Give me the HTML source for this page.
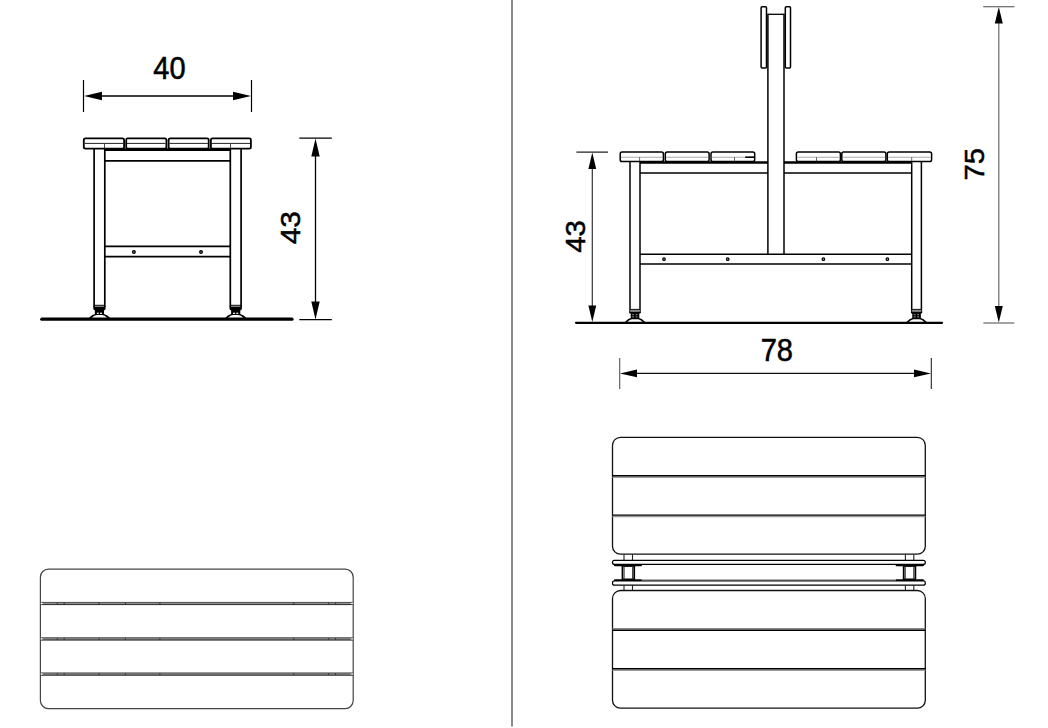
<!DOCTYPE html>
<html><head><meta charset="utf-8"><style>
html,body{margin:0;padding:0;background:#fff;width:1048px;height:728px;overflow:hidden}
svg{display:block}
text{font-family:"Liberation Sans",sans-serif;fill:#000;stroke:#000;stroke-width:0.55px}
</style></head><body>
<svg width="1048" height="728" viewBox="0 0 1048 728">
<rect x="511" y="0" width="2" height="726.5" fill="#8a8a8a"/>
<g><line x1="83.5" y1="80" x2="83.5" y2="112" stroke="#000" stroke-width="1.2"/><line x1="251.5" y1="80" x2="251.5" y2="112" stroke="#000" stroke-width="1.2"/><line x1="95" y1="96" x2="240" y2="96" stroke="#000" stroke-width="1.3"/><polygon points="84,96 102.00,100.20 102.00,91.80" fill="#000"/><polygon points="251,96 233.00,91.80 233.00,100.20" fill="#000"/><text x="0" y="0" font-size="30.5" text-anchor="middle" transform="translate(169.4,79.0) scale(0.95,1.0)">40</text><rect x="83.8" y="138.3" width="40.30" height="10.3" rx="1.6" fill="#fff" stroke="#000" stroke-width="1.8"/><line x1="84.6" y1="143.4" x2="123.3" y2="143.4" stroke="#222" stroke-width="1.0"/><rect x="126.2" y="138.3" width="40.20" height="10.3" rx="1.6" fill="#fff" stroke="#000" stroke-width="1.8"/><line x1="127.0" y1="143.4" x2="165.6" y2="143.4" stroke="#222" stroke-width="1.0"/><rect x="168.6" y="138.3" width="40.10" height="10.3" rx="1.6" fill="#fff" stroke="#000" stroke-width="1.8"/><line x1="169.4" y1="143.4" x2="207.89999999999998" y2="143.4" stroke="#222" stroke-width="1.0"/><rect x="210.9" y="138.3" width="40.00" height="10.3" rx="1.6" fill="#fff" stroke="#000" stroke-width="1.8"/><line x1="211.70000000000002" y1="143.4" x2="250.1" y2="143.4" stroke="#222" stroke-width="1.0"/><line x1="104.5" y1="143.4" x2="104.5" y2="148.5" stroke="#333" stroke-width="0.9"/><line x1="230.5" y1="143.4" x2="230.5" y2="148.5" stroke="#333" stroke-width="0.9"/><line x1="104.8" y1="149.6" x2="230.3" y2="149.6" stroke="#000" stroke-width="2.8"/><line x1="94.1" y1="148.6" x2="94.1" y2="307" stroke="#000" stroke-width="1.7"/><line x1="104.8" y1="148.6" x2="104.8" y2="307" stroke="#000" stroke-width="1.7"/><line x1="230.3" y1="148.6" x2="230.3" y2="307" stroke="#000" stroke-width="1.7"/><line x1="241.1" y1="148.6" x2="241.1" y2="307" stroke="#000" stroke-width="1.7"/><line x1="104.8" y1="160.9" x2="230.3" y2="160.9" stroke="#000" stroke-width="1.7"/><line x1="104.8" y1="246.3" x2="230.3" y2="246.3" stroke="#000" stroke-width="1.7"/><line x1="104.8" y1="256.7" x2="230.3" y2="256.7" stroke="#000" stroke-width="1.7"/><circle cx="133.9" cy="252.1" r="1.3" fill="#ccc" stroke="#000" stroke-width="1.4"/><circle cx="201" cy="252.1" r="1.3" fill="#ccc" stroke="#000" stroke-width="1.4"/><line x1="94.1" y1="305.3" x2="104.8" y2="305.3" stroke="#000" stroke-width="1.0"/><path d="M93.3 306.5 L105.6 306.5 L105.6 308.5 Q105.6 310.5 103.3 310.5 L95.6 310.5 Q93.3 310.5 93.3 308.5 Z" fill="#000"/><rect x="94.85" y="310" width="9.2" height="4.3" fill="#000"/><rect x="96.85" y="312.7" width="2" height="1.2" fill="#fff"/><rect x="100.04999999999998" y="312.7" width="2" height="1.2" fill="#fff"/><path d="M88.44999999999999 318.2 Q91.44999999999999 315 94.85 314 L104.04999999999998 314 Q107.44999999999999 315 110.44999999999999 318.2 Z" fill="#000"/><path d="M91.24999999999999 318.2 Q94.44999999999999 315.1 96.94999999999999 315.1 L101.94999999999999 315.1 Q104.44999999999999 315.1 107.64999999999999 318.2 Z" fill="#fff"/><line x1="230.3" y1="305.3" x2="241.1" y2="305.3" stroke="#000" stroke-width="1.0"/><path d="M229.5 306.5 L241.9 306.5 L241.9 308.5 Q241.9 310.5 239.6 310.5 L231.8 310.5 Q229.5 310.5 229.5 308.5 Z" fill="#000"/><rect x="231.1" y="310" width="9.2" height="4.3" fill="#000"/><rect x="233.1" y="312.7" width="2" height="1.2" fill="#fff"/><rect x="236.29999999999998" y="312.7" width="2" height="1.2" fill="#fff"/><path d="M224.7 318.2 Q227.7 315 231.1 314 L240.29999999999998 314 Q243.7 315 246.7 318.2 Z" fill="#000"/><path d="M227.5 318.2 Q230.7 315.1 233.2 315.1 L238.2 315.1 Q240.7 315.1 243.89999999999998 318.2 Z" fill="#fff"/><line x1="41.8" y1="319.2" x2="292" y2="319.2" stroke="#000" stroke-width="3.2" stroke-linecap="round"/><line x1="299.3" y1="138.2" x2="331.8" y2="138.2" stroke="#000" stroke-width="1.2"/><line x1="299.3" y1="319.7" x2="331.8" y2="319.7" stroke="#000" stroke-width="1.2"/><line x1="315.5" y1="150" x2="315.5" y2="310" stroke="#000" stroke-width="1.3"/><polygon points="315.5,138.5 311.30,156.50 319.70,156.50" fill="#000"/><polygon points="315.5,319.5 319.70,301.50 311.30,301.50" fill="#000"/><text x="0" y="0" font-size="30.5" text-anchor="middle" transform="translate(299.9,227.7) rotate(-90) scale(0.98,0.9)">43</text></g>
<g><line x1="767.9" y1="14.3" x2="784.2" y2="14.3" stroke="#000" stroke-width="1.3"/><line x1="767.9" y1="13.7" x2="767.9" y2="254" stroke="#000" stroke-width="1.5"/><line x1="784.0" y1="13.7" x2="784.0" y2="254" stroke="#000" stroke-width="1.5"/><rect x="761.1" y="6.8" width="5.40" height="61.3" rx="1" fill="#fff" stroke="#000" stroke-width="1.5"/><rect x="785.3" y="6.8" width="5.20" height="61.3" rx="1" fill="#fff" stroke="#000" stroke-width="1.5"/><rect x="620.2" y="152.1" width="43.20" height="9.5" rx="1.8" fill="#fff" stroke="#000" stroke-width="1.5"/><line x1="621.0" y1="157.2" x2="662.6" y2="157.2" stroke="#aaa" stroke-width="1.1"/><rect x="665.3" y="152.1" width="43.80" height="9.5" rx="1.8" fill="#fff" stroke="#000" stroke-width="1.5"/><line x1="666.0999999999999" y1="157.2" x2="708.3000000000001" y2="157.2" stroke="#aaa" stroke-width="1.1"/><rect x="711" y="152.1" width="43.70" height="9.5" rx="1.8" fill="#fff" stroke="#000" stroke-width="1.5"/><line x1="711.8" y1="157.2" x2="753.9000000000001" y2="157.2" stroke="#aaa" stroke-width="1.1"/><rect x="796.4" y="152.1" width="44.00" height="9.5" rx="1.8" fill="#fff" stroke="#000" stroke-width="1.5"/><line x1="797.1999999999999" y1="157.2" x2="839.6" y2="157.2" stroke="#aaa" stroke-width="1.1"/><rect x="841.8" y="152.1" width="44.10" height="9.5" rx="1.8" fill="#fff" stroke="#000" stroke-width="1.5"/><line x1="842.5999999999999" y1="157.2" x2="885.1" y2="157.2" stroke="#aaa" stroke-width="1.1"/><rect x="887.3" y="152.1" width="44.30" height="9.5" rx="1.8" fill="#fff" stroke="#000" stroke-width="1.5"/><line x1="888.0999999999999" y1="157.2" x2="930.8000000000001" y2="157.2" stroke="#aaa" stroke-width="1.1"/><line x1="745.2" y1="157.2" x2="754" y2="157.2" stroke="#000" stroke-width="1.6"/><line x1="639.6" y1="157.2" x2="639.6" y2="161.5" stroke="#444" stroke-width="0.8"/><line x1="734.5" y1="157.2" x2="734.5" y2="161.5" stroke="#444" stroke-width="0.8"/><line x1="816.5" y1="157.2" x2="816.5" y2="161.5" stroke="#444" stroke-width="0.8"/><line x1="911.7" y1="157.2" x2="911.7" y2="161.5" stroke="#444" stroke-width="0.8"/><line x1="640" y1="162.5" x2="767.9" y2="162.5" stroke="#000" stroke-width="2.6"/><line x1="784" y1="162.5" x2="911.7" y2="162.5" stroke="#000" stroke-width="2.6"/><line x1="640" y1="173.1" x2="767.9" y2="173.1" stroke="#000" stroke-width="1.5"/><line x1="784" y1="173.1" x2="911.7" y2="173.1" stroke="#000" stroke-width="1.5"/><line x1="630" y1="161.6" x2="630" y2="312.6" stroke="#000" stroke-width="1.5"/><line x1="640" y1="161.6" x2="640" y2="312.6" stroke="#000" stroke-width="1.5"/><line x1="911.7" y1="161.6" x2="911.7" y2="312.6" stroke="#000" stroke-width="1.5"/><line x1="921.4" y1="161.6" x2="921.4" y2="312.6" stroke="#000" stroke-width="1.5"/><line x1="640" y1="254.3" x2="911.7" y2="254.3" stroke="#000" stroke-width="1.5"/><line x1="640" y1="264.1" x2="911.7" y2="264.1" stroke="#000" stroke-width="1.5"/><circle cx="664" cy="259.15" r="1.25" fill="#ccc" stroke="#000" stroke-width="1.3"/><circle cx="727.7" cy="259.15" r="1.25" fill="#ccc" stroke="#000" stroke-width="1.3"/><circle cx="823.4" cy="259.15" r="1.25" fill="#ccc" stroke="#000" stroke-width="1.3"/><circle cx="887.4" cy="259.15" r="1.25" fill="#ccc" stroke="#000" stroke-width="1.3"/><line x1="630" y1="309.4" x2="640" y2="309.4" stroke="#000" stroke-width="1.0"/><rect x="630" y="309.9" width="10.00" height="1.9" fill="#888"/><path d="M629.25 311.8 L640.75 311.8 L640.75 312.4 Q640.75 313.6 639 313.6 L631 313.6 Q629.25 313.6 629.25 312.4 Z" fill="#000"/><rect x="630.7" y="313" width="8.6" height="5.4" fill="#000"/><rect x="632.2" y="313.9" width="1.8" height="1.3" fill="#777"/><rect x="635.7" y="313.9" width="1.8" height="1.3" fill="#777"/><rect x="632.2" y="316.2" width="1.8" height="1.3" fill="#777"/><rect x="635.7" y="316.2" width="1.8" height="1.3" fill="#777"/><path d="M624.8 322 Q628.0 318.5 630.7 318 L639.3 318 Q642.0 318.5 645.2 322 Z" fill="#000"/><path d="M627.2 322 Q630.0 319.2 631.8 319.2 L638.2 319.2 Q640.0 319.2 642.8 322 Z" fill="#fff"/><line x1="911.7" y1="309.4" x2="921.4" y2="309.4" stroke="#000" stroke-width="1.0"/><rect x="911.7" y="309.9" width="9.70" height="1.9" fill="#888"/><path d="M910.95 311.8 L922.15 311.8 L922.15 312.4 Q922.15 313.6 920.4 313.6 L912.7 313.6 Q910.95 313.6 910.95 312.4 Z" fill="#000"/><rect x="912.25" y="313" width="8.6" height="5.4" fill="#000"/><rect x="913.75" y="313.9" width="1.8" height="1.3" fill="#777"/><rect x="917.25" y="313.9" width="1.8" height="1.3" fill="#777"/><rect x="913.75" y="316.2" width="1.8" height="1.3" fill="#777"/><rect x="917.25" y="316.2" width="1.8" height="1.3" fill="#777"/><path d="M906.3499999999999 322 Q909.55 318.5 912.25 318 L920.8499999999999 318 Q923.55 318.5 926.75 322 Z" fill="#000"/><path d="M908.75 322 Q911.55 319.2 913.3499999999999 319.2 L919.75 319.2 Q921.55 319.2 924.3499999999999 322 Z" fill="#fff"/><line x1="576" y1="322.8" x2="942" y2="322.8" stroke="#000" stroke-width="2.2" stroke-linecap="round"/><line x1="576.4" y1="152.1" x2="608" y2="152.1" stroke="#000" stroke-width="1.1"/><line x1="592.3" y1="165" x2="592.3" y2="310" stroke="#333" stroke-width="1.2"/><polygon points="592.3,152.5 588.40,169.00 596.20,169.00" fill="#000"/><polygon points="592.3,322 596.20,305.50 588.40,305.50" fill="#000"/><text x="0" y="0" font-size="30.5" text-anchor="middle" transform="translate(584.5,236.5) rotate(-90) scale(0.965,0.9)">43</text><line x1="983.2" y1="6.7" x2="1014.5" y2="6.7" stroke="#666" stroke-width="1.2"/><line x1="983.4" y1="323" x2="1014.3" y2="323" stroke="#666" stroke-width="1.2"/><line x1="998.8" y1="20" x2="998.8" y2="310" stroke="#777" stroke-width="1.3"/><polygon points="998.8,7 994.80,23.50 1002.80,23.50" fill="#000"/><polygon points="998.8,322.5 1002.80,306.00 994.80,306.00" fill="#000"/><text x="0" y="0" font-size="30.5" text-anchor="middle" transform="translate(984.1,164.3) rotate(-90) scale(0.96,0.9)">75</text><line x1="619.7" y1="358" x2="619.7" y2="389" stroke="#555" stroke-width="1.1"/><line x1="931.3" y1="358" x2="931.3" y2="389" stroke="#222" stroke-width="1.1"/><line x1="630" y1="373.4" x2="920" y2="373.4" stroke="#111" stroke-width="1.3"/><polygon points="620,373.4 637.00,377.30 637.00,369.50" fill="#000"/><polygon points="931,373.4 914.00,369.50 914.00,377.30" fill="#000"/><text x="0" y="0" font-size="30.5" text-anchor="middle" transform="translate(776.8,361.2) scale(0.953,1.005)">78</text></g>
<g><rect x="40.4" y="569.2" width="312.8" height="139.4" rx="8" fill="#fff" stroke="#444" stroke-width="1.2"/><rect x="40.4" y="602.0" width="312.8" height="3" fill="#8e8e8e"/><line x1="40.4" y1="602.4" x2="353.2" y2="602.4" stroke="#444" stroke-width="0.8"/><line x1="40.4" y1="604.6" x2="353.2" y2="604.6" stroke="#222" stroke-width="0.9"/><line x1="57.3" y1="602.7" x2="57.3" y2="604.3" stroke="#222" stroke-width="0.9"/><line x1="64.2" y1="602.7" x2="64.2" y2="604.3" stroke="#222" stroke-width="0.9"/><line x1="99.1" y1="602.7" x2="99.1" y2="604.3" stroke="#222" stroke-width="0.9"/><line x1="125.4" y1="602.7" x2="125.4" y2="604.3" stroke="#222" stroke-width="0.9"/><line x1="159.9" y1="602.7" x2="159.9" y2="604.3" stroke="#222" stroke-width="0.9"/><line x1="293.8" y1="602.7" x2="293.8" y2="604.3" stroke="#222" stroke-width="0.9"/><line x1="328.8" y1="602.7" x2="328.8" y2="604.3" stroke="#222" stroke-width="0.9"/><line x1="335.6" y1="602.7" x2="335.6" y2="604.3" stroke="#222" stroke-width="0.9"/><polygon points="41,602.6 43.5,603.5 41,604.4" fill="#fff"/><polygon points="352.6,602.6 350.1,603.5 352.6,604.4" fill="#fff"/><rect x="40.4" y="637.4" width="312.8" height="3" fill="#8e8e8e"/><line x1="40.4" y1="637.8" x2="353.2" y2="637.8" stroke="#444" stroke-width="0.8"/><line x1="40.4" y1="640.0" x2="353.2" y2="640.0" stroke="#222" stroke-width="0.9"/><line x1="57.3" y1="638.1" x2="57.3" y2="639.6999999999999" stroke="#222" stroke-width="0.9"/><line x1="64.2" y1="638.1" x2="64.2" y2="639.6999999999999" stroke="#222" stroke-width="0.9"/><line x1="99.1" y1="638.1" x2="99.1" y2="639.6999999999999" stroke="#222" stroke-width="0.9"/><line x1="125.4" y1="638.1" x2="125.4" y2="639.6999999999999" stroke="#222" stroke-width="0.9"/><line x1="159.9" y1="638.1" x2="159.9" y2="639.6999999999999" stroke="#222" stroke-width="0.9"/><line x1="293.8" y1="638.1" x2="293.8" y2="639.6999999999999" stroke="#222" stroke-width="0.9"/><line x1="328.8" y1="638.1" x2="328.8" y2="639.6999999999999" stroke="#222" stroke-width="0.9"/><line x1="335.6" y1="638.1" x2="335.6" y2="639.6999999999999" stroke="#222" stroke-width="0.9"/><polygon points="41,638.0 43.5,638.9 41,639.8" fill="#fff"/><polygon points="352.6,638.0 350.1,638.9 352.6,639.8" fill="#fff"/><rect x="40.4" y="672.6" width="312.8" height="3" fill="#8e8e8e"/><line x1="40.4" y1="673.0" x2="353.2" y2="673.0" stroke="#444" stroke-width="0.8"/><line x1="40.4" y1="675.2" x2="353.2" y2="675.2" stroke="#222" stroke-width="0.9"/><line x1="57.3" y1="673.3000000000001" x2="57.3" y2="674.9" stroke="#222" stroke-width="0.9"/><line x1="64.2" y1="673.3000000000001" x2="64.2" y2="674.9" stroke="#222" stroke-width="0.9"/><line x1="99.1" y1="673.3000000000001" x2="99.1" y2="674.9" stroke="#222" stroke-width="0.9"/><line x1="125.4" y1="673.3000000000001" x2="125.4" y2="674.9" stroke="#222" stroke-width="0.9"/><line x1="159.9" y1="673.3000000000001" x2="159.9" y2="674.9" stroke="#222" stroke-width="0.9"/><line x1="293.8" y1="673.3000000000001" x2="293.8" y2="674.9" stroke="#222" stroke-width="0.9"/><line x1="328.8" y1="673.3000000000001" x2="328.8" y2="674.9" stroke="#222" stroke-width="0.9"/><line x1="335.6" y1="673.3000000000001" x2="335.6" y2="674.9" stroke="#222" stroke-width="0.9"/><polygon points="41,673.2 43.5,674.1 41,675.0" fill="#fff"/><polygon points="352.6,673.2 350.1,674.1 352.6,675.0" fill="#fff"/></g>
<g><rect x="612.5" y="437.3" width="312.8" height="116.9" rx="8" fill="#fff" stroke="#111" stroke-width="1.3"/><line x1="612.5" y1="477.2" x2="925.3" y2="477.2" stroke="#999" stroke-width="1.5"/><line x1="612.5" y1="475.7" x2="925.3" y2="475.7" stroke="#000" stroke-width="1.4"/><line x1="612.5" y1="516.6" x2="925.3" y2="516.6" stroke="#999" stroke-width="1.5"/><line x1="612.5" y1="515.1" x2="925.3" y2="515.1" stroke="#000" stroke-width="1.4"/><rect x="612.5" y="590.5" width="312.8" height="117.7" rx="8" fill="#fff" stroke="#111" stroke-width="1.3"/><line x1="612.5" y1="628.75" x2="925.3" y2="628.75" stroke="#888" stroke-width="1.5"/><line x1="612.5" y1="630.25" x2="925.3" y2="630.25" stroke="#000" stroke-width="1.4"/><line x1="612.5" y1="670.3" x2="925.3" y2="670.3" stroke="#999" stroke-width="1.5"/><line x1="612.5" y1="668.8" x2="925.3" y2="668.8" stroke="#000" stroke-width="1.4"/><line x1="624" y1="554.2" x2="624" y2="560.3" stroke="#222" stroke-width="1.1"/><line x1="624" y1="585.2" x2="624" y2="590.5" stroke="#222" stroke-width="1.1"/><line x1="632.5" y1="554.2" x2="632.5" y2="560.3" stroke="#222" stroke-width="1.1"/><line x1="632.5" y1="585.2" x2="632.5" y2="590.5" stroke="#222" stroke-width="1.1"/><line x1="905.4" y1="554.2" x2="905.4" y2="560.3" stroke="#222" stroke-width="1.1"/><line x1="905.4" y1="585.2" x2="905.4" y2="590.5" stroke="#222" stroke-width="1.1"/><line x1="913.8" y1="554.2" x2="913.8" y2="560.3" stroke="#222" stroke-width="1.1"/><line x1="913.8" y1="585.2" x2="913.8" y2="590.5" stroke="#222" stroke-width="1.1"/><rect x="612.5" y="560.3" width="312.8" height="4.10" rx="2" fill="#fff" stroke="#000" stroke-width="1.2"/><rect x="612.5" y="580.9" width="312.8" height="4.30" rx="2" fill="#fff" stroke="#000" stroke-width="1.2"/><rect x="614" y="564.4" width="28" height="1.8" rx="0.9" fill="#000"/><rect x="614" y="579.2" width="28" height="1.8" rx="0.9" fill="#000"/><rect x="895.6" y="564.4" width="28.399999999999977" height="1.8" rx="0.9" fill="#000"/><rect x="895.6" y="579.2" width="28.399999999999977" height="1.8" rx="0.9" fill="#000"/><line x1="642" y1="580" x2="895.6" y2="580" stroke="#666" stroke-width="1.2"/><rect x="622.5" y="566" width="11.70" height="13.4" fill="#fff" stroke="#000" stroke-width="1.8"/><line x1="624.2" y1="566" x2="624.2" y2="579.4" stroke="#333" stroke-width="0.9"/><line x1="632.5" y1="566" x2="632.5" y2="579.4" stroke="#333" stroke-width="0.9"/><rect x="903.6999999999999" y="566" width="11.65" height="13.4" fill="#fff" stroke="#000" stroke-width="1.8"/><line x1="905.4" y1="566" x2="905.4" y2="579.4" stroke="#333" stroke-width="0.9"/><line x1="913.65" y1="566" x2="913.65" y2="579.4" stroke="#333" stroke-width="0.9"/></g>
</svg>
</body></html>
